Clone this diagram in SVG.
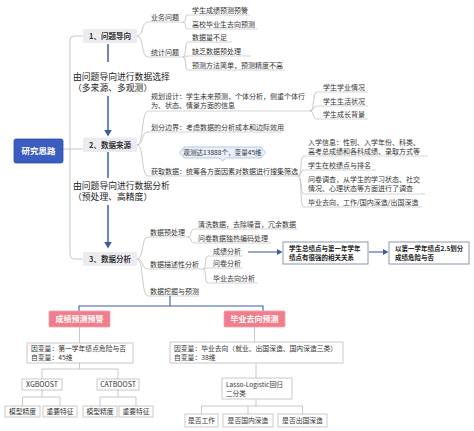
<svg xmlns="http://www.w3.org/2000/svg" width="474" height="431" viewBox="0 0 474 431">
<style>
text { font-family: "Noto Sans CJK SC", "Liberation Sans", sans-serif; fill: #333; }
.t { font-size: 7px; }
.s { font-size: 6.8px; }
.big { font-size: 8.8px; fill: #222; }
.main { font-size: 7.5px; font-weight: bold; text-anchor: middle; fill: #333; }
.mainbox { fill: #ececf0; }
.ln { stroke: #c2c2c2; stroke-width: 0.9; fill: none; }
.ul { stroke: #c9c9c9; stroke-width: 0.8; fill: none; }
.bl { stroke: #3d5ca8; stroke-width: 1.5; fill: none; }
.bl2 { stroke: #3d5ca8; stroke-width: 1.1; fill: none; }
.box { fill: #fff; stroke: #bcbcbc; stroke-width: 0.8; }
.pink { fill: #f07d8c; stroke: #f5a3ad; stroke-width: 0.8; }
.pt { font-size: 8px; font-weight: bold; fill: #fff; text-anchor: middle; }
.c { text-anchor: middle; }
.res { fill: #fff; stroke: #7f8da3; stroke-width: 0.9; }
.rt { font-size: 6.5px; font-weight: bold; fill: #222; }
.ah { fill: #3d5ca8; }
</style>
<rect width="474" height="431" fill="#fff"/>

<g id="connectors">
  <path class="ln" d="M83 36 H74 Q70 36 70 40 V255 Q70 259 74 259 H83"/>
  <path class="ln" d="M63 149 H83"/>
  <path class="bl" d="M108 44 V62"/>
  <path class="bl" d="M108 96 V131"/>
  <polygon class="ah" points="104.2,130 111.8,130 108,136.5"/>
  <path class="bl" d="M108 152 V178"/>
  <path class="bl" d="M108 205 V243"/>
  <polygon class="ah" points="104.2,242 111.8,242 108,248.5"/>
  <path class="ln" d="M137 36 C144 36 141 22 148 22"/>
  <path class="ln" d="M137 36 C144 36 141 57 148 57"/>
  <path class="ul" d="M148 22 H183 M148 57 H183"/>
  <path class="ln" d="M183 22 C187 22 184 15 188 15 M183 22 C187 22 184 29 188 29"/>
  <path class="ln" d="M183 57 C187 57 184 42 188 42 M183 57 C186 57 185 56 188 56 M183 57 C187 57 184 70 188 70"/>
  <path class="ul" d="M188 15 H250 M188 29 H258 M188 42 H232 M188 56 H251 M188 70 H285"/>
  <path class="ln" d="M137 145 C144 145 141 111 148 111"/>
  <path class="ln" d="M137 145 C144 145 141 132 148 132"/>
  <path class="ln" d="M137 145 C144 145 141 176 148 176"/>
  <path class="ul" d="M148 111 H310 M148 132 H282 M148 176 H298"/>
  <path class="ln" d="M310 111 C315 111 312 92 317 92 M310 111 C314 111 313 106 317 106 M310 111 C314 111 313 119 317 119"/>
  <path class="ul" d="M317 92 H368 M317 106 H368 M317 119 H368"/>
  <path class="ln" d="M298 176 C303 176 299 156 304 156 M298 176 C302 176 300 170 304 170 M298 176 C302 176 300 194 304 194 M298 176 C303 176 299 207 304 207"/>
  <path class="ul" d="M304 156 H428 M304 170 H376 M304 194 H425 M304 207 H422"/>
  <path class="ln" d="M137 259 C144 259 141 237 148 237"/>
  <path class="ln" d="M137 259 C144 259 141 269 148 269"/>
  <path class="ln" d="M137 259 C144 259 141 296 148 296"/>
  <path class="ul" d="M148 237 H188 M148 269 H203 M148 296 H199"/>
  <path class="ln" d="M188 237 C192 237 190 229 194 229 M188 237 C192 237 190 243 194 243"/>
  <path class="ul" d="M194 229 H298 M194 243 H271"/>
  <path class="ln" d="M203 269 C207 269 204 256 208 256 M203 269 C206 269 205 268 208 268 M203 269 C207 269 204 283 208 283"/>
  <path class="ul" d="M208 256 H243 M208 268 H243 M208 283 H258"/>
  <path class="bl2" d="M248 252 H278"/>
  <polygon class="ah" points="277,249 282.5,252 277,255"/>
  <path class="bl2" d="M369 252 H384"/>
  <polygon class="ah" points="383,249 388.5,252 383,255"/>
  <path class="bl2" d="M170 296 V306"/>
  <path class="bl2" d="M79 311 V306 H263 V311"/>
  <path class="ln" d="M79.5 327 V343"/>
  <path class="ln" d="M79.5 363 V369 M42 379 V369 H118 V379"/>
  <path class="ln" d="M42 390 V397 M22.5 406 V397 H60 V406"/>
  <path class="ln" d="M118 390 V397 M100 406 V397 H136 V406"/>
  <path class="ln" d="M254.5 327 V342"/>
  <path class="ln" d="M256 363 V378"/>
  <path class="ln" d="M256 399 V406 M201.5 414 V406 H302.5 V414 M248 406 V414"/>
</g>

<g id="root">
  <rect x="14" y="139" width="49" height="24" rx="2" fill="#3b5cc0" stroke="#2f4ca6" stroke-width="0.8"/>
  <text x="38.5" y="154" text-anchor="middle" font-size="8.5" font-weight="bold" style="fill:#fff">研究思路</text>
</g>

<g id="n1">
  <rect class="mainbox" x="83" y="29" width="54" height="14" rx="1"/>
  <text class="main" x="110" y="38.8">1、问题导向</text>
</g>
<g id="n2">
  <rect class="mainbox" x="83" y="137.5" width="54" height="14.5" rx="1"/>
  <text class="main" x="110" y="147.5">2、数据来源</text>
</g>
<g id="n3">
  <rect class="mainbox" x="83" y="252" width="54" height="14" rx="1"/>
  <text class="main" x="110" y="261.8">3、数据分析</text>
</g>

<g id="label1">
  <text class="big" x="73" y="79.5">由问题导向进行数据选择</text>
  <text class="big" x="73" y="91">（多来源、多观测）</text>
</g>
<g id="label2">
  <text class="big" x="73" y="188.5">由问题导向进行数据分析</text>
  <text class="big" x="73" y="200">（预处理、高精度）</text>
</g>

<g id="sec1">
  <g id="n1a"><text class="t" x="151" y="19.5">业务问题</text></g>
  <g id="n1a1"><text class="t" x="192" y="12.5">学生成绩预测预警</text></g>
  <g id="n1a2"><text class="t" x="192" y="26.5">高校毕业生去向预测</text></g>
  <g id="n1b"><text class="t" x="151" y="54.5">统计问题</text></g>
  <g id="n1b1"><text class="t" x="192" y="39.5">数据量不足</text></g>
  <g id="n1b2"><text class="t" x="192" y="53.5">缺乏数据预处理</text></g>
  <g id="n1b3"><text class="t" x="192" y="67.5">预测方法简单，预测精度不高</text></g>
</g>

<g id="sec2">
  <g id="n2a">
    <text class="t" x="151" y="98.5">规划设计：学生未来预测，个体分析，侧重个体行</text>
    <text class="t" x="151" y="107.5">为、状态、情景方面的信息</text>
  </g>
  <g id="n2a1"><text class="t" x="323" y="89.5">学生学业情况</text></g>
  <g id="n2a2"><text class="t" x="323" y="103.5">学生生活状况</text></g>
  <g id="n2a3"><text class="t" x="323" y="116.5">学生成长背景</text></g>
  <g id="n2b"><text class="t" x="151" y="129.5">划分边界：考虑数据的分析成本和边际效用</text></g>
  <g id="callout">
    <path d="M184 147 H261 L265.5 152.5 L261 158 H226 L222.5 161 L219 158 H184 L179.5 152.5 Z" fill="#e7f0fb" stroke="#9fc0e4" stroke-width="0.8"/>
    <text x="222.5" y="155" font-size="6.6" text-anchor="middle">观测达13888个，变量45维</text>
  </g>
  <g id="n2c"><text class="t" x="151" y="173.5">获取数据：统筹各方面因素对数据进行搜集筛选</text></g>
  <g id="n2c1">
    <text class="t" x="308" y="144.5">入学信息：性别、入学年份、科类、</text>
    <text class="t" x="308" y="153.5">高考总成绩和各科成绩、录取方式等</text>
  </g>
  <g id="n2c2"><text class="t" x="308" y="167.5">学生在校绩点与排名</text></g>
  <g id="n2c3">
    <text class="t" x="308" y="181.5">问卷调查，从学生的学习状态、社交</text>
    <text class="t" x="308" y="190.5">情况、心理状态等方面进行了调查</text>
  </g>
  <g id="n2c4"><text class="t" x="308" y="204.5">毕业去向，工作/国内深造/出国深造</text></g>
</g>

<g id="sec3">
  <g id="n3a"><text class="t" x="150" y="234.5">数据预处理</text></g>
  <g id="n3a1"><text class="t" x="198" y="226.5">清洗数据，去除噪音，冗余数据</text></g>
  <g id="n3a2"><text class="t" x="198" y="240.5">问卷数据独热编码处理</text></g>
  <g id="n3b"><text class="t" x="150" y="266.5">数据描述性分析</text></g>
  <g id="n3b1"><text class="t" x="213" y="253.5">成绩分析</text></g>
  <g id="n3b2"><text class="t" x="213" y="265.5">问卷分析</text></g>
  <g id="n3b3"><text class="t" x="213" y="280.5">毕业去向分析</text></g>
  <g id="n3c"><text class="t" x="150" y="293.5">数据挖掘与预测</text></g>
</g>

<g id="result1">
  <rect class="res" x="283" y="242" width="85" height="22"/>
  <text class="rt" x="289" y="251">学生总绩点与第一年学年</text>
  <text class="rt" x="289" y="259.5">绩点有很强的相关关系</text>
</g>
<g id="result2">
  <rect class="res" x="389" y="242" width="80" height="22"/>
  <text class="rt" x="395" y="251">以第一学年绩点2.5划分</text>
  <text class="rt" x="395" y="259.5">成绩危险与否</text>
</g>

<g id="p1">
  <rect class="pink" x="49" y="311" width="61" height="16" rx="1"/>
  <text class="pt" x="79.5" y="322">成绩预测预警</text>
</g>
<g id="p2">
  <rect class="pink" x="224" y="311" width="61" height="16" rx="1"/>
  <text class="pt" x="254.5" y="322">毕业去向预测</text>
</g>

<g id="v1">
  <rect class="box" x="27" y="343" width="106" height="20"/>
  <text class="s" x="31" y="350.5">因变量：第一学年绩点危险与否</text>
  <text class="s" x="31" y="359.5">自变量：45维</text>
</g>
<g id="xgb"><rect class="box" x="22" y="379" width="40" height="11"/><text class="t c" x="42" y="387">XGBOOST</text></g>
<g id="cat"><rect class="box" x="97" y="379" width="42" height="11"/><text class="t c" x="118" y="387">CATBOOST</text></g>
<g id="x1"><rect class="box" x="5" y="406" width="35" height="11"/><text class="s c" x="22.5" y="414">模型精度</text></g>
<g id="x2"><rect class="box" x="43" y="406" width="34" height="11"/><text class="s c" x="60" y="414">重要特征</text></g>
<g id="c1"><rect class="box" x="83" y="406" width="34" height="11"/><text class="s c" x="100" y="414">模型精度</text></g>
<g id="c2"><rect class="box" x="119" y="406" width="34" height="11"/><text class="s c" x="136" y="414">重要特征</text></g>

<g id="v2">
  <rect class="box" x="170" y="342" width="173" height="21"/>
  <text class="s" x="174" y="350.5">因变量：毕业去向（就业、出国深造、国内深造三类）</text>
  <text class="s" x="174" y="359.5">自变量：38维</text>
</g>
<g id="lasso">
  <rect class="box" x="222" y="378" width="70" height="21"/>
  <text x="226" y="386.5" font-size="6.6">Lasso-Logistic回归</text>
  <text x="226" y="395.5" font-size="6.6">二分类</text>
</g>
<g id="l1"><rect class="box" x="185" y="414" width="33" height="13"/><text class="s c" x="201.5" y="423">是否工作</text></g>
<g id="l2"><rect class="box" x="223" y="414" width="50" height="13"/><text class="s c" x="248" y="423">是否国内深造</text></g>
<g id="l3"><rect class="box" x="278" y="414" width="49" height="13"/><text class="s c" x="302.5" y="423">是否出国深造</text></g>
</svg>
